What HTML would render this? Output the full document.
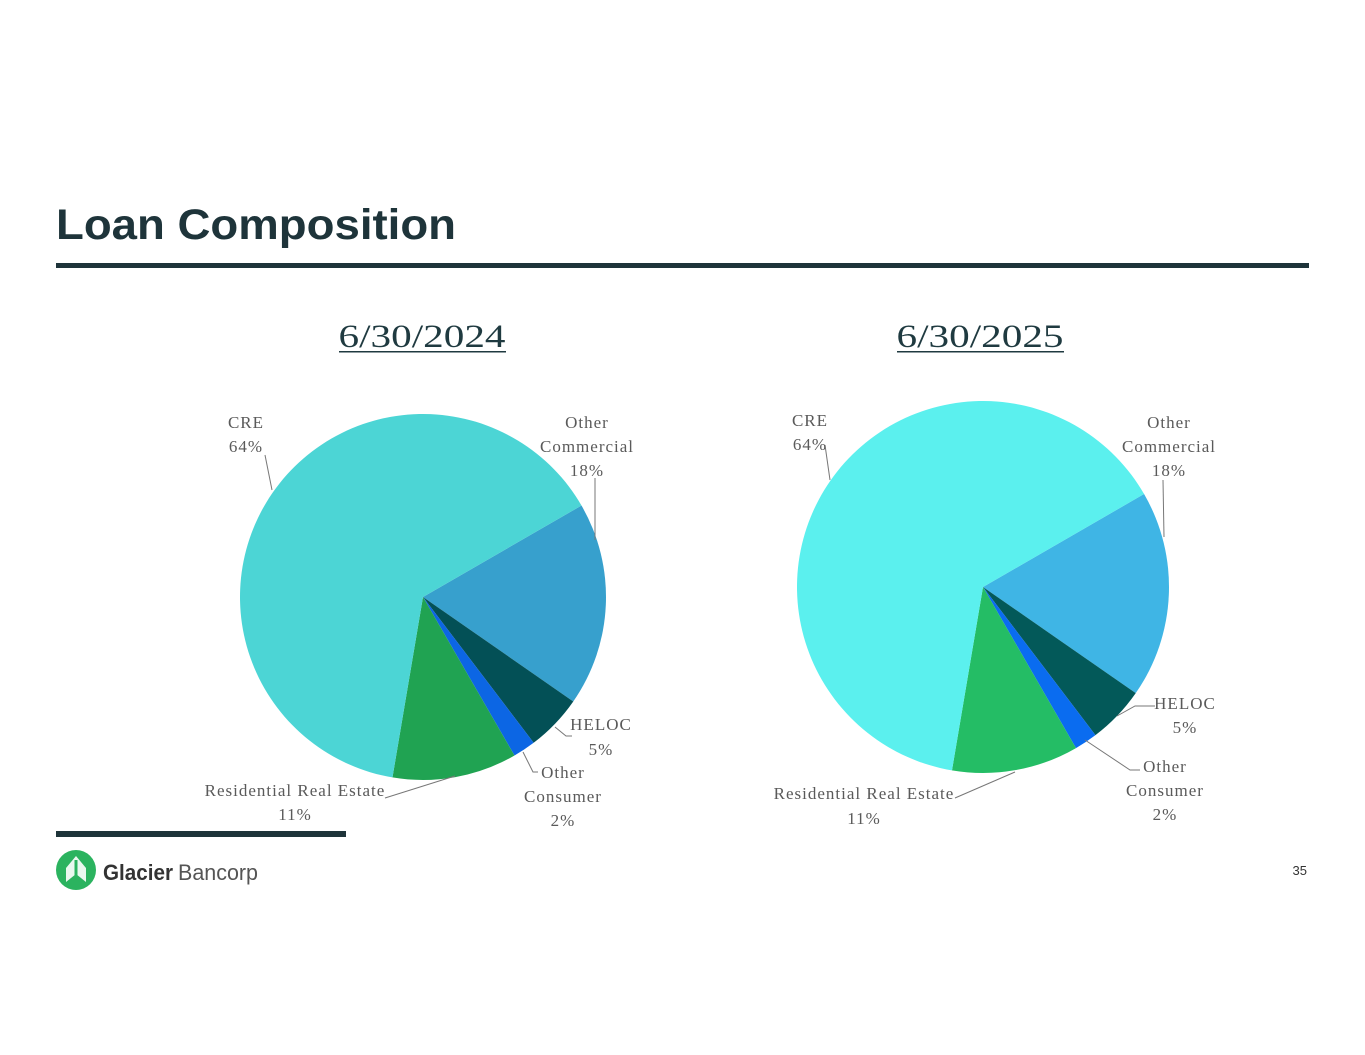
<!DOCTYPE html>
<html><head><meta charset="utf-8">
<style>
html,body{margin:0;padding:0;background:#fff;}
svg{display:block;}
.l{font-family:"Liberation Serif",serif;font-size:17px;fill:#5a5a5a;text-anchor:middle;letter-spacing:1px;}
.d{font-family:"Liberation Serif",serif;font-size:33px;fill:#1f3a40;text-anchor:middle;}
</style></head>
<body>
<svg id="s" width="1365" height="1055" viewBox="0 0 1365 1055" xmlns="http://www.w3.org/2000/svg">
<text x="56" y="239" font-family="Liberation Sans, sans-serif" font-weight="bold" font-size="43" fill="#1e343a" textLength="400" lengthAdjust="spacingAndGlyphs">Loan Composition</text>
<rect x="56" y="263" width="1253" height="5" fill="#1e343a"/>
<rect x="56" y="831" width="290" height="6" fill="#1e343a"/>
<text class="d" x="422" y="347" textLength="167" lengthAdjust="spacingAndGlyphs">6/30/2024</text>
<rect x="339" y="351" width="167" height="1.5" fill="#1f3a40"/>
<text class="d" x="980" y="347" textLength="167" lengthAdjust="spacingAndGlyphs">6/30/2025</text>
<rect x="897" y="351" width="167" height="1.5" fill="#1f3a40"/>
<g id="p1"></g><g id="p2"></g>
<g fill="none" stroke="#777" stroke-width="1">
<polyline points="265,455 272,490"/>
<polyline points="595,478 595,540"/>
<polyline points="555,727 566,736 572,736"/>
<polyline points="523,752 533,772 538,772"/>
<polyline points="385,798 455,776"/>
<polyline points="825,445 830,480"/>
<polyline points="1163,480 1164,537"/>
<polyline points="1117,716 1135,706 1155,706"/>
<polyline points="1085,740 1130,770 1140,770"/>
<polyline points="955,798 1015,772"/>
</g>
<text class="l" x="246" y="428">CRE</text><text class="l" x="246" y="452">64%</text>
<text class="l" x="587" y="428">Other</text><text class="l" x="587" y="452">Commercial</text><text class="l" x="587" y="476">18%</text>
<text class="l" x="601" y="730">HELOC</text><text class="l" x="601" y="755">5%</text>
<text class="l" x="563" y="778">Other</text><text class="l" x="563" y="802">Consumer</text><text class="l" x="563" y="826">2%</text>
<text class="l" x="295" y="796">Residential Real Estate</text><text class="l" x="295" y="820">11%</text>
<text class="l" x="810" y="426">CRE</text><text class="l" x="810" y="450">64%</text>
<text class="l" x="1169" y="428">Other</text><text class="l" x="1169" y="452">Commercial</text><text class="l" x="1169" y="476">18%</text>
<text class="l" x="1185" y="709">HELOC</text><text class="l" x="1185" y="733">5%</text>
<text class="l" x="1165" y="772">Other</text><text class="l" x="1165" y="796">Consumer</text><text class="l" x="1165" y="820">2%</text>
<text class="l" x="864" y="799">Residential Real Estate</text><text class="l" x="864" y="824">11%</text>
<circle cx="76" cy="870" r="20" fill="#2bb35f"/>
<path d="M76 856 L66 868 L66 882 L76 874 Z M76 856 L86 868 L86 882 L76 874 Z" fill="#fff" opacity="0.9"/>
<path d="M76 860 L76 884" stroke="#2bb35f" stroke-width="3"/>
<text x="103" y="880" font-family="Liberation Sans,sans-serif" font-weight="bold" font-size="22" fill="#333" textLength="70" lengthAdjust="spacingAndGlyphs">Glacier</text>
<text x="178" y="880" font-family="Liberation Sans,sans-serif" font-size="22" fill="#555" textLength="80" lengthAdjust="spacingAndGlyphs">Bancorp</text>
<text x="1307" y="875" font-family="Liberation Sans,sans-serif" font-size="13" fill="#333" text-anchor="end">35</text>
</svg>
<script>
function pie(id,cx,cy,r,cols){
 var fr=[0.64,0.18,0.05,0.02,0.11];
 var start=(60-90)*Math.PI/180; var order=[1,2,3,4,0];var g=document.getElementById(id);var h='';
 for(var k=0;k<5;k++){var i=order[k];var e=start+fr[i]*2*Math.PI;
  var x1=cx+r*Math.cos(start),y1=cy+r*Math.sin(start),x2=cx+r*Math.cos(e),y2=cy+r*Math.sin(e);
  h+='<path d="M'+cx+' '+cy+' L'+x1+' '+y1+' A'+r+' '+r+' 0 '+(fr[i]>0.5?1:0)+' 1 '+x2+' '+y2+' Z" fill="'+cols[i]+'"/>';start=e;}
 g.innerHTML=h;}
pie('p1',423,597,183,['#4cd5d5','#37a0cd','#035056','#0c66e4','#20a352']);
pie('p2',983,587,186,['#5bf0ee','#3fb5e5','#035959','#0a6cf0','#24bd65']);
</script>
</body></html>
